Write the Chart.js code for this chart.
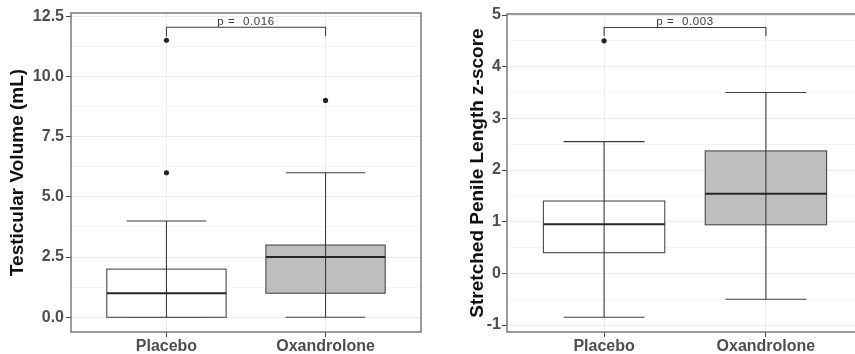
<!DOCTYPE html>
<html>
<head>
<meta charset="utf-8">
<script src="https://cdn.jsdelivr.net/npm/chart.js@4.4.1/dist/chart.umd.min.js"></script>
<style>
  html, body { margin:0; padding:0; background:#ffffff; }
  body { width:855px; height:354px; overflow:hidden; position:relative; }
  canvas { position:absolute; top:0; }
  #c1 { left:0; }
  #c2 { left:430px; }
</style>
</head>
<body>
<canvas id="c1" width="430" height="354"></canvas>
<canvas id="c2" width="440" height="354"></canvas>
<script>
// ---------- data ----------
const categories = ['Placebo', 'Oxandrolone'];

// Panel 1: Testicular Volume (mL)
const tvTitle = 'Testicular Volume (mL)';
const tvWhiskerLow  = [0, 0];
const tvQ1          = [0, 1];
const tvMedian      = [1, 2.5];
const tvQ3          = [2, 3];
const tvWhiskerHigh = [4, 6];
const tvOutliers    = [[6, 11.5], [9]];
const tvTicks       = [0, 2.5, 5, 7.5, 10, 12.5];
const tvTickLabels  = ['0.0', '2.5', '5.0', '7.5', '10.0', '12.5'];
const tvMinorTicks  = [1.25, 3.75, 6.25, 8.75, 11.25];
const tvRange       = [-0.61, 12.63];
const tvBracket     = [12.04, 11.66];
const tvPLabel      = 'p =  0.016';

// Panel 2: Stretched Penile Length z-score
const splTitle = 'Stretched Penile Length z-score';
const splWhiskerLow  = [-0.85, -0.5];
const splQ1          = [0.4, 0.94];
const splMedian      = [0.95, 1.54];
const splQ3          = [1.4, 2.37];
const splWhiskerHigh = [2.55, 3.5];
const splOutliers    = [[4.5], []];
const splTicks       = [-1, 0, 1, 2, 3, 4, 5];
const splTickLabels  = ['-1', '0', '1', '2', '3', '4', '5'];
const splMinorTicks  = [-0.5, 0.5, 1.5, 2.5, 3.5, 4.5];
const splRange       = [-1.135, 5.02];
const splBracket     = [4.76, 4.59];
const splPLabel      = 'p =  0.003';

// ---------- drawing ----------
Chart.defaults.font.family = '"Liberation Sans", Arial, Helvetica, sans-serif';
const boxFills = ['#ffffff', '#bebebe'];

function boxPlugin(d) {
  return {
    id: 'boxdraw',
    beforeDatasetsDraw(chart) {
      const {ctx, chartArea: a} = chart;
      const x = chart.scales.x, y = chart.scales.y;
      ctx.save();
      ctx.beginPath();
      ctx.rect(a.left, a.top, a.right - a.left, a.bottom - a.top);
      ctx.clip();
      const line = (x1, y1, x2, y2) => { ctx.beginPath(); ctx.moveTo(x1, y1); ctx.lineTo(x2, y2); ctx.stroke(); };
      categories.forEach((c, i) => {
        const pos = i + 1;
        const xl = x.getPixelForValue(pos - 0.375), xr = x.getPixelForValue(pos + 0.375);
        const xc = x.getPixelForValue(pos);
        const cl = x.getPixelForValue(pos - 0.25), cr = x.getPixelForValue(pos + 0.25);
        const ylo = y.getPixelForValue(d.low[i]), yhi = y.getPixelForValue(d.high[i]);
        const yq1 = y.getPixelForValue(d.q1[i]), yq3 = y.getPixelForValue(d.q3[i]);
        const ymed = y.getPixelForValue(d.med[i]);
        ctx.strokeStyle = '#3c3c3c';
        ctx.lineWidth = 1.1;
        line(cl, ylo, cr, ylo);
        line(cl, yhi, cr, yhi);
        ctx.fillStyle = boxFills[i];
        ctx.fillRect(xl, yq3, xr - xl, yq1 - yq3);
        ctx.strokeStyle = '#4a4a4a';
        ctx.strokeRect(xl, yq3, xr - xl, yq1 - yq3);
        ctx.strokeStyle = '#3c3c3c';
        line(xc, ylo, xc, yhi);
        ctx.strokeStyle = '#262626';
        ctx.lineWidth = 2;
        line(xl, ymed, xr, ymed);
      });
      // significance bracket
      const bx1 = x.getPixelForValue(1), bx2 = x.getPixelForValue(2);
      const by = y.getPixelForValue(d.bracket[0]), byt = y.getPixelForValue(d.bracket[1]);
      ctx.strokeStyle = '#3c3c3c';
      ctx.lineWidth = 1.1;
      ctx.beginPath();
      ctx.moveTo(bx1, byt); ctx.lineTo(bx1, by); ctx.lineTo(bx2, by); ctx.lineTo(bx2, byt);
      ctx.stroke();
      ctx.restore();
      ctx.save();
      ctx.fillStyle = '#3a3a3a';
      ctx.font = '11.5px "Liberation Sans", Arial, sans-serif';
      try { ctx.letterSpacing = '0.6px'; } catch (e) {}
      ctx.textAlign = 'center';
      ctx.textBaseline = 'alphabetic';
      ctx.fillText(d.pLabel, (bx1 + bx2) / 2, by - 2);
      ctx.restore();
    },
    afterDatasetsDraw(chart) {
      const {ctx, chartArea: a} = chart;
      ctx.save();
      ctx.strokeStyle = '#707070';
      ctx.lineWidth = 1.4;
      ctx.strokeRect(a.left, a.top, a.right - a.left, a.bottom - a.top);
      ctx.restore();
    }
  };
}

function near(v, arr) { return arr.some(t => Math.abs(t - v) < 1e-9); }

function makeChart(id, d, L) {
  const pts = [];
  d.outliers.forEach((arr, i) => arr.forEach(v => pts.push({x: i + 1, y: v})));
  const allTicks = d.ticks.concat(d.minor).sort((a, b) => a - b);
  return new Chart(document.getElementById(id), {
    type: 'scatter',
    data: {
      datasets: [{
        data: pts,
        pointRadius: 2.6,
        pointBackgroundColor: '#262626',
        pointBorderWidth: 0,
        pointHoverRadius: 2.6
      }]
    },
    options: {
      responsive: false,
      animation: false,
      events: [],
      layout: {padding: {left: 0, right: L.padRight, top: L.padTop, bottom: 0}},
      plugins: {legend: {display: false}, tooltip: {enabled: false}},
      scales: {
        x: {
          type: 'linear', min: 0.4, max: 2.6,
          afterBuildTicks: s => { s.ticks = [1, 2].map(v => ({value: v})); },
          afterFit: s => { s.height = 22; },
          ticks: {
            callback: v => categories[Math.round(v) - 1],
            color: '#4d4d4d',
            font: {size: 16, weight: 'bold'},
            padding: 0, maxRotation: 0, autoSkip: false
          },
          grid: {color: '#ebebeb', lineWidth: 1, tickColor: '#444444', tickLength: 5},
          border: {display: false}
        },
        y: {
          type: 'linear', min: d.range[0], max: d.range[1],
          afterBuildTicks: s => { s.ticks = allTicks.map(v => ({value: v})); },
          afterFit: s => { s.width = L.yWidth; },
          ticks: {
            callback: v => { const k = d.ticks.findIndex(t => Math.abs(t - v) < 1e-9); return k >= 0 ? d.tickLabels[k] : ''; },
            color: '#4d4d4d',
            font: {size: 16, weight: 'bold'},
            padding: L.tickPad, autoSkip: false
          },
          grid: {
            color: c => near(c.tick.value, d.ticks) ? '#ebebeb' : '#f4f4f4',
            lineWidth: 1,
            tickColor: c => near(c.tick.value, d.ticks) ? '#444444' : 'rgba(0,0,0,0)',
            tickLength: 5
          },
          border: {display: false},
          title: {
            display: true, text: d.title, color: '#111111',
            font: {size: 19, weight: 'bold'},
            padding: {top: L.titlePad, bottom: 0}
          }
        }
      }
    },
    plugins: [boxPlugin(d)]
  });
}

makeChart('c1', {
  title: tvTitle, low: tvWhiskerLow, q1: tvQ1, med: tvMedian, q3: tvQ3, high: tvWhiskerHigh,
  outliers: tvOutliers, ticks: tvTicks, tickLabels: tvTickLabels, minor: tvMinorTicks,
  range: tvRange, bracket: tvBracket, pLabel: tvPLabel
}, {padRight: 9, padTop: 13, yWidth: 71, tickPad: 2, titlePad: 6.6});

makeChart('c2', {
  title: splTitle, low: splWhiskerLow, q1: splQ1, med: splMedian, q3: splQ3, high: splWhiskerHigh,
  outliers: splOutliers, ticks: splTicks, tickLabels: splTickLabels, minor: splMinorTicks,
  range: splRange, bracket: splBracket, pLabel: splPLabel
}, {padRight: 7, padTop: 14, yWidth: 77, tickPad: 1, titlePad: 36.6});
</script>
</body>
</html>
